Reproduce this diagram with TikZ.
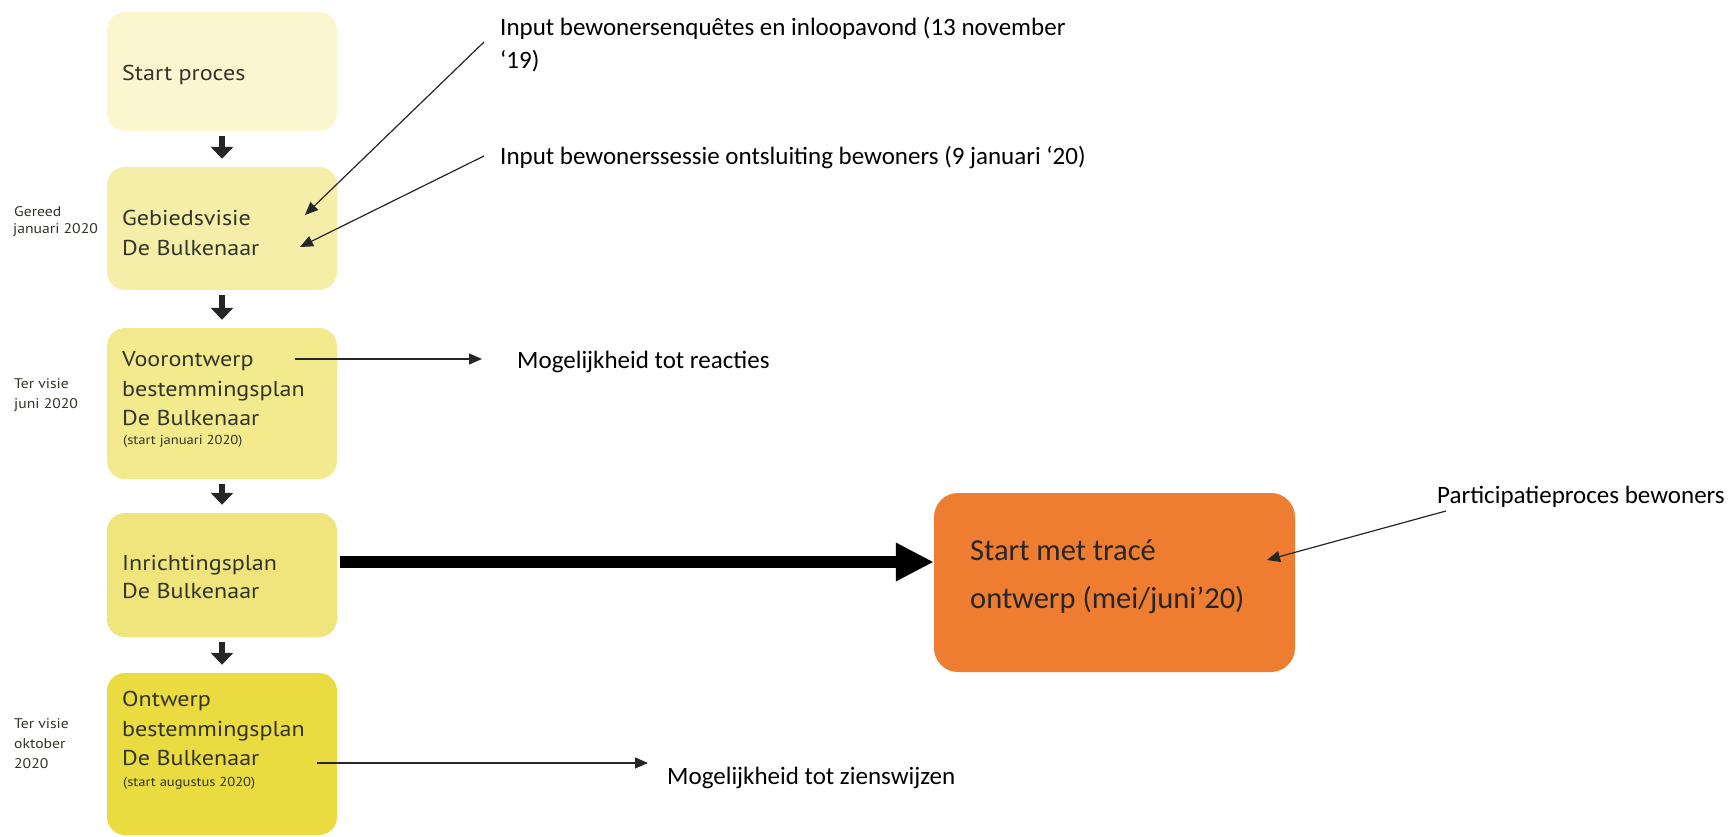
\documentclass[tikz,border=0pt]{standalone}
\usepackage{fontspec}
\setmainfont{Carlito}
\newfontfamily\boxfont[FakeStretch=1.12]{PT Sans}
\usetikzlibrary{arrows.meta}
\definecolor{yA}{HTML}{FBF6CF}
\definecolor{yB}{HTML}{F4EEA8}
\definecolor{yC}{HTML}{F2EA8C}
\definecolor{yD}{HTML}{EFE57C}
\definecolor{yE}{HTML}{E9DB40}
\definecolor{orng}{HTML}{EE7D31}
\definecolor{btxt}{HTML}{33332A}
\begin{document}
\begin{tikzpicture}[x=1pt,y=-1pt,
  ybox/.style={draw=none, rounded corners=18pt, minimum width=230pt, inner sep=0pt},
  btext/.style={anchor=base west, font=\boxfont\fontsize{21.5}{26}\selectfont, text=btxt, inner sep=0pt},
  bsmall/.style={anchor=base west, font=\boxfont\fontsize{13}{15}\selectfont, text=btxt, inner sep=0pt},
  lbl/.style={anchor=base west, font=\boxfont\fontsize{14}{17}\selectfont, text=btxt, inner sep=0pt},
  note/.style={anchor=base west, font=\fontsize{25}{30}\selectfont, text=black, inner sep=0pt},
  otext/.style={anchor=base west, font=\fontsize{30.5}{36}\selectfont, text=black!85, inner sep=0pt},
  darr/.style={line width=6pt, black!85, -{Triangle[length=12pt,width=22pt]}, shorten <=5pt, shorten >=8pt},
  thin/.style={line width=1.2pt, black!85, -{Triangle[length=13pt,width=11pt]}},
  bigarr/.style={line width=12pt, black, -{Triangle[length=38pt,width=36pt]}}
]
\useasboundingbox (0,0) rectangle (1733,837);
\fill[white] (0,0) rectangle (1733,837);

% boxes
\node[ybox, fill=yA, minimum height=119pt] (b1) at (222,71.5) {};
\node[ybox, fill=yB, minimum height=123pt] (b2) at (222,228.5) {};
\node[ybox, fill=yC, minimum height=151pt] (b3) at (222,403.5) {};
\node[ybox, fill=yD, minimum height=124pt] (b4) at (222,575) {};
\node[ybox, fill=yE, minimum height=162pt] (b5) at (222,754) {};
\node[draw=none, fill=orng, rounded corners=24pt, minimum width=361pt, minimum height=179pt, inner sep=0pt] (or) at (1114.5,582.5) {};

% box texts
\node[btext] (t1) at (122,81) {Start proces};
\node[btext] (t2a) at (122,226) {Gebiedsvisie};
\node[btext] (t2b) at (122,256) {De Bulkenaar};
\node[btext] (t3a) at (122,366) {Voorontwerp};
\node[btext] (t3b) at (122,396) {bestemmingsplan};
\node[btext] (t3c) at (122,425) {De Bulkenaar};
\node[bsmall] (t3d) at (123,444) {(start januari 2020)};
\node[btext] (t4a) at (122,570) {Inrichtingsplan};
\node[btext] (t4b) at (122,598) {De Bulkenaar};
\node[btext] (t5a) at (122,706) {Ontwerp};
\node[btext] (t5b) at (122,736) {bestemmingsplan};
\node[btext] (t5c) at (122,765) {De Bulkenaar};
\node[bsmall] (t5d) at (123,786) {(start augustus 2020)};

% left labels
\node[lbl] (l2a) at (14,217) {Gereed};
\node[lbl] (l2b) at (13,234) {januari 2020};
\node[lbl] (l3a) at (14,388) {Ter visie};
\node[lbl] (l3b) at (14,408) {juni 2020};
\node[lbl] (l5a) at (14,728) {Ter visie};
\node[lbl] (l5b) at (14,748) {oktober};
\node[lbl] (l5c) at (14,768) {2020};

% orange text
\node[otext] (o1) at (970,560) {Start met tracé};
\node[otext] (o2) at (970,608) {ontwerp (mei/juni’20)};

% annotations
\node[note] (n1a) at (500,36) {Input bewonersenquêtes en inloopavond (13 november};
\node[note] (n1b) at (500,69) {‘19)};
\node[note] (n2) at (500,165) {Input bewonerssessie ontsluiting bewoners (9 januari ‘20)};
\node[note] (n3) at (517,368) {Mogelijkheid tot reacties};
\node[note] (n4) at (667,784) {Mogelijkheid tot zienswijzen};
\node[note] (n5) at (1437,503) {Participatieproces bewoners};

% flow arrows
\draw[darr] (b1) -- (b2);
\draw[darr] (b2) -- (b3);
\draw[darr] (b3) -- (b4);
\draw[darr] (b4) -- (b5);

% annotation arrows
\coordinate (a1s) at (484,42);
\coordinate (a1e) at (305,215);
\coordinate (a2s) at (484,156);
\coordinate (a2e) at (300,247);
\coordinate (a3s) at (295,359);
\coordinate (a3e) at (482,359);
\coordinate (a4s) at (317,763);
\coordinate (a4e) at (648,763);
\coordinate (a5s) at (1446,511);
\coordinate (a5e) at (1267,560);
\coordinate (bigs) at (340,562);
\draw[thin] (a1s) -- (a1e);
\draw[thin] (a2s) -- (a2e);
\draw[thin] (a3s) -- (a3e);
\draw[thin] (a4s) -- (a4e);
\draw[thin] (a5s) -- (a5e);
\draw[bigarr] (bigs) -- (bigs -| or.west);
\end{tikzpicture}
\end{document}
